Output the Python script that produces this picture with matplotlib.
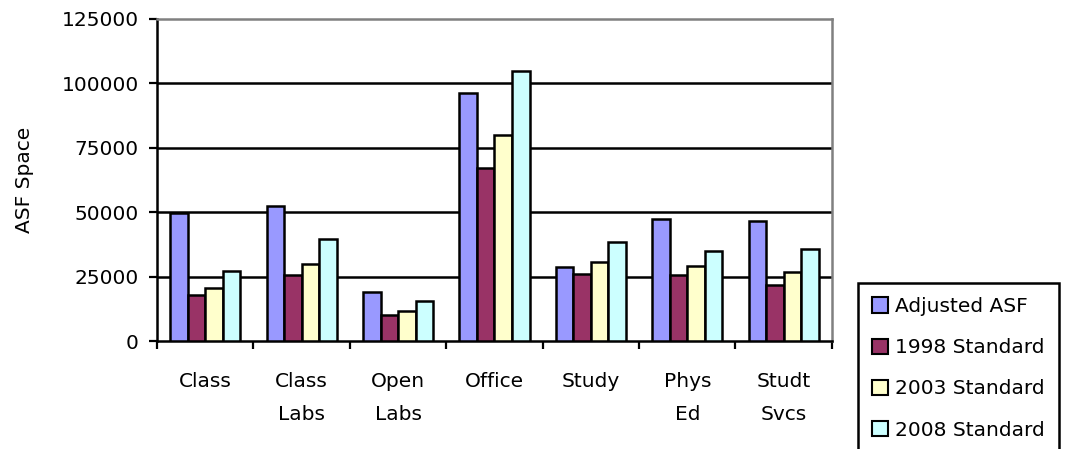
import matplotlib
matplotlib.use('Agg')
import matplotlib.pyplot as plt
import numpy as np

plt.rcParams['font.family'] = ['DejaVu Sans']
plt.rcParams['font.size'] = 14.5

# space categories and ASF values per standard
categorias = ['Class', 'Class\nLabs', 'Open\nLabs', 'Office', 'Study', 'Phys\nEd', 'Studt\nSvcs']
series = ['Adjusted ASF', '1998 Standard', '2003 Standard', '2008 Standard']
adjusted = [49500, 52300, 18900, 96400, 28700, 47400, 46600]
std_1998 = [17700, 25800, 10200, 67300, 26000, 25800, 21600]
std_2003 = [20500, 29800, 11600, 79800, 30700, 29200, 26700]
std_2008 = [27000, 39500, 15500, 105000, 38500, 34800, 35700]
colores = ['#9999FF', '#993366', '#FFFFCC', '#CCFFFF']

fig = plt.figure(figsize=(10.72, 4.49), dpi=100)
ax = fig.add_axes([0.1465, 0.2405, 0.6295, 0.7172])

x = np.arange(len(categorias))
ancho = 1 / 5.5
valores = [adjusted, std_1998, std_2003, std_2008]
for i, (vals, nombre, color) in enumerate(zip(valores, series, colores)):
    ax.bar(x + (i - 1.5) * ancho, vals, ancho, color=color, edgecolor='black',
           linewidth=1.8, label=nombre, zorder=3)

ax.set_xlim(-0.5, len(categorias) - 0.5)
ax.set_ylim(0, 125000)
ax.set_yticks(np.arange(0, 125001, 25000))
for yv in [25000, 50000, 75000, 100000]:
    ax.axhline(yv, color='black', linewidth=1.8, zorder=1)

# category labels between boundary ticks
ax.set_xticks(np.arange(-0.5, len(categorias), 1))
ax.set_xticklabels([])
ax.set_xticks(x, minor=True)
ax.set_xticklabels(categorias, minor=True, linespacing=1.95, va='top')
ax.tick_params(axis='x', which='minor', length=0, pad=22)
ax.tick_params(axis='x', which='major', length=6, width=1.6, direction='out')
ax.tick_params(axis='y', length=6, width=1.6, direction='out', pad=7)

for lado in ['left', 'bottom']:
    ax.spines[lado].set_color('black')
    ax.spines[lado].set_linewidth(1.8)
for lado in ['top', 'right']:
    ax.spines[lado].set_color('#808080')
    ax.spines[lado].set_linewidth(1.8)

ax.set_ylabel('ASF Space', labelpad=20)

leg = fig.legend(loc='upper left', bbox_to_anchor=(858 / 1072, 1 - 283 / 449),
                 bbox_transform=fig.transFigure, borderaxespad=0,
                 handlelength=0.8, handleheight=0.8, handletextpad=0.35,
                 labelspacing=1.1, borderpad=0.7, fancybox=False,
                 edgecolor='black', framealpha=1)
leg.get_frame().set_linewidth(1.8)
for h in leg.legend_handles:
    h.set_linewidth(1.5)

plt.savefig('out.png', dpi=100)
plt.close()
